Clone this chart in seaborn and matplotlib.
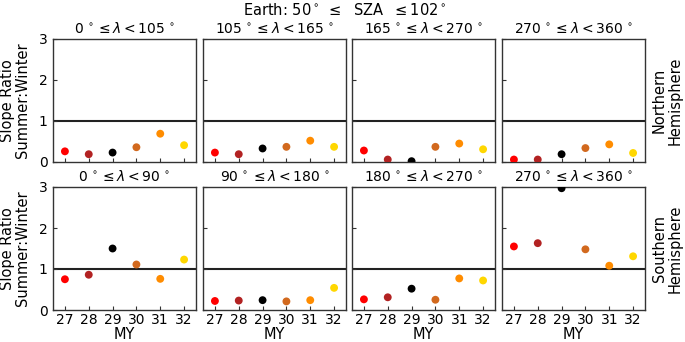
import numpy as np
import pandas as pd
import matplotlib
matplotlib.use("Agg")
import matplotlib.pyplot as plt
import seaborn as sns

years = [27, 28, 29, 30, 31, 32]
colors = ["#ff0000", "#b22222", "#000000", "#d2691e", "#ff8c00", "#ffd700"]

north_titles = [r"$0\,^\circ \leq \lambda < 105\,^\circ$", r"$105\,^\circ \leq \lambda < 165\,^\circ$",
                r"$165\,^\circ \leq \lambda < 270\,^\circ$", r"$270\,^\circ \leq \lambda < 360\,^\circ$"]
south_titles = [r"$0\,^\circ \leq \lambda < 90\,^\circ$", r"$90\,^\circ \leq \lambda < 180\,^\circ$",
                r"$180\,^\circ \leq \lambda < 270\,^\circ$", r"$270\,^\circ \leq \lambda < 360\,^\circ$"]

north_1 = [0.26, 0.19, 0.23, 0.36, 0.69, 0.41]
north_2 = [0.23, 0.19, 0.33, 0.37, 0.52, 0.37]
north_3 = [0.28, 0.06, 0.02, 0.37, 0.45, 0.31]
north_4 = [0.06, 0.06, 0.19, 0.34, 0.43, 0.22]
south_1 = [0.75, 0.86, 1.50, 1.11, 0.76, 1.23]
south_2 = [0.22, 0.23, 0.24, 0.21, 0.24, 0.54]
south_3 = [0.26, 0.31, 0.52, 0.25, 0.77, 0.72]
south_4 = [1.55, 1.63, 2.97, 1.48, 1.08, 1.31]

rows = [[north_1, north_2, north_3, north_4], [south_1, south_2, south_3, south_4]]
titles = [north_titles, south_titles]
row_labels = ["Northern\nHemisphere", "Southern\nHemisphere"]

plt.rcParams["font.family"] = ["DejaVu Sans"]
fig = plt.figure(figsize=(6.85, 3.42), dpi=100)

lefts = [53, 203, 352, 502]
width = 143
tops = [39, 187]
height = 123
W, H = 685, 342
palette = dict(zip(years, colors))
spine_c = "#333333"

for r in range(2):
    for c in range(4):
        ax = fig.add_axes([lefts[c] / W, 1 - (tops[r] + height) / H, width / W, height / H])
        df = pd.DataFrame({"MY": years, "ratio": rows[r][c]})
        ax.axhline(1, color="#222222", lw=1.5, zorder=1)
        sns.scatterplot(data=df, x="MY", y="ratio", hue="MY", palette=palette,
                        s=32, edgecolor="none", legend=False, ax=ax, zorder=3, clip_on=True)
        ax.set_xlim(26.5, 32.5)
        ax.set_ylim(0, 3)
        ax.set_xticks(years)
        ax.set_yticks([0, 1, 2, 3])
        ax.tick_params(direction="in", length=3, width=0.8, labelsize=10, color=spine_c,
                       top=False, right=False, pad=4)
        ax.tick_params(axis="x", pad=2.5)
        for sp in ax.spines.values():
            sp.set_color(spine_c)
            sp.set_linewidth(1.0)
        ax.set_title(titles[r][c], fontsize=10, pad=4)
        if c == 0:
            ax.set_ylabel("Slope Ratio\nSummer:Winter", fontsize=10.5, labelpad=6,
                          linespacing=1.05)
        else:
            ax.set_ylabel("")
            ax.set_yticklabels([])
        if r == 1:
            ax.set_xlabel("MY", fontsize=10.5, labelpad=-0.5)
        else:
            ax.set_xlabel("")
            ax.set_xticklabels([])
        if c == 3:
            ax.text(1.155, 0.5, row_labels[r], transform=ax.transAxes, rotation=90,
                    ha="center", va="center", fontsize=10.5, linespacing=1.05)

fig.text(0.504, 0.995, r"Earth: 50$^\circ$ $\leq$  SZA  $\leq 102^\circ$", ha="center", va="top",
         fontsize=10.5)

fig.savefig("out.png", dpi=100)
